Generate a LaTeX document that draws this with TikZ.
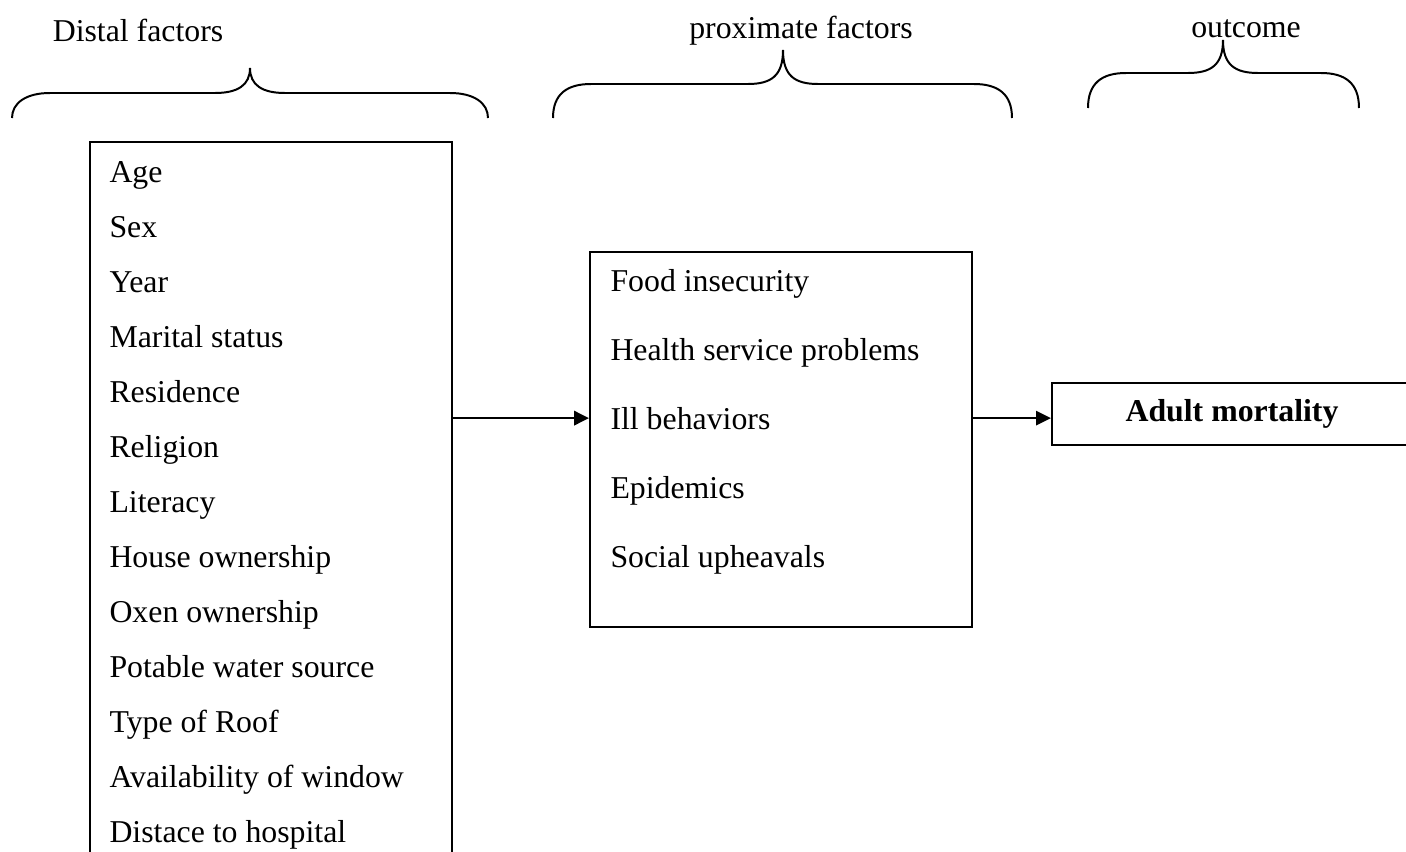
\documentclass[tikz,border=0pt]{standalone}
\usepackage{fontspec}
\setmainfont{Liberation Serif}
\usetikzlibrary{positioning,arrows.meta,fit}

\begin{document}
\begin{tikzpicture}[
  x=0.3774pt, y=-0.3774pt,
  >={Triangle[length=5.6pt,width=5.4pt]},
  box/.style={draw, line width=0.75pt, inner sep=0pt},
  outbox/.style={box, minimum width=135.9pt, minimum height=23.4pt, font=\fontsize{12pt}{14pt}\selectfont\bfseries},
  item/.style={anchor=base west, inner sep=0pt, font=\fontsize{12pt}{14pt}\selectfont},
  head/.style={anchor=base, inner sep=0pt, font=\fontsize{12pt}{14pt}\selectfont},
  brace/.style={line width=0.75pt},
]
\useasboundingbox (0,0) rectangle (1406,852);
\clip (0,0) rectangle (1406,852);

% headings
\node[head] (hdistal) at (138,41) {Distal factors};
\node[head] (hprox) at (801,38) {proximate factors};
\node[head] (hout) at (1246,37) {outcome};

% braces
\foreach \bl/\br/\bt/\be/\bm/\bp in {12/488/250/118/93/68, 553/1012/783/118/84/50, 1088/1359/1223/108/73/40}
  \draw[brace] (\bl,\be) .. controls (\bl,\bm+10) and (\bl+14,\bm) .. (\bl+38,\bm) -- (\bt-35,\bm)
    .. controls (\bt-12,\bm) and (\bt,\bm-8) .. (\bt,\bp)
    .. controls (\bt,\bm-8) and (\bt+12,\bm) .. (\bt+35,\bm) -- (\br-38,\bm)
    .. controls (\br-14,\bm) and (\br,\bm+10) .. (\br,\be);

% boxes
\node[box, fit={(90,142) (452,870)}] (distal) {};
\node[box, fit={(590,252) (972,627)}] (prox) {};
\node[outbox] (mort) at (1232,414) {Adult mortality};

% box contents
\foreach \txt [count=\i] in {Age, Sex, Year, Marital status, Residence, Religion, Literacy, House ownership, Oxen ownership, Potable water source, Type of Roof, Availability of window, Distace to hospital}
  \node[item] (d\i) at (109,{182+55*(\i-1)}) {\txt};
\foreach \txt [count=\i] in {Food insecurity, Health service problems, Ill behaviors, Epidemics, Social upheavals}
  \node[item] (p\i) at (610,{291+69*(\i-1)}) {\txt};

\draw[->, line width=0.75pt] (distal.east |- p3.west) -- (prox.west |- p3.west);
\draw[->, line width=0.75pt] (prox.east |- p3.west) -- (mort.west |- p3.west);
\end{tikzpicture}
\end{document}
